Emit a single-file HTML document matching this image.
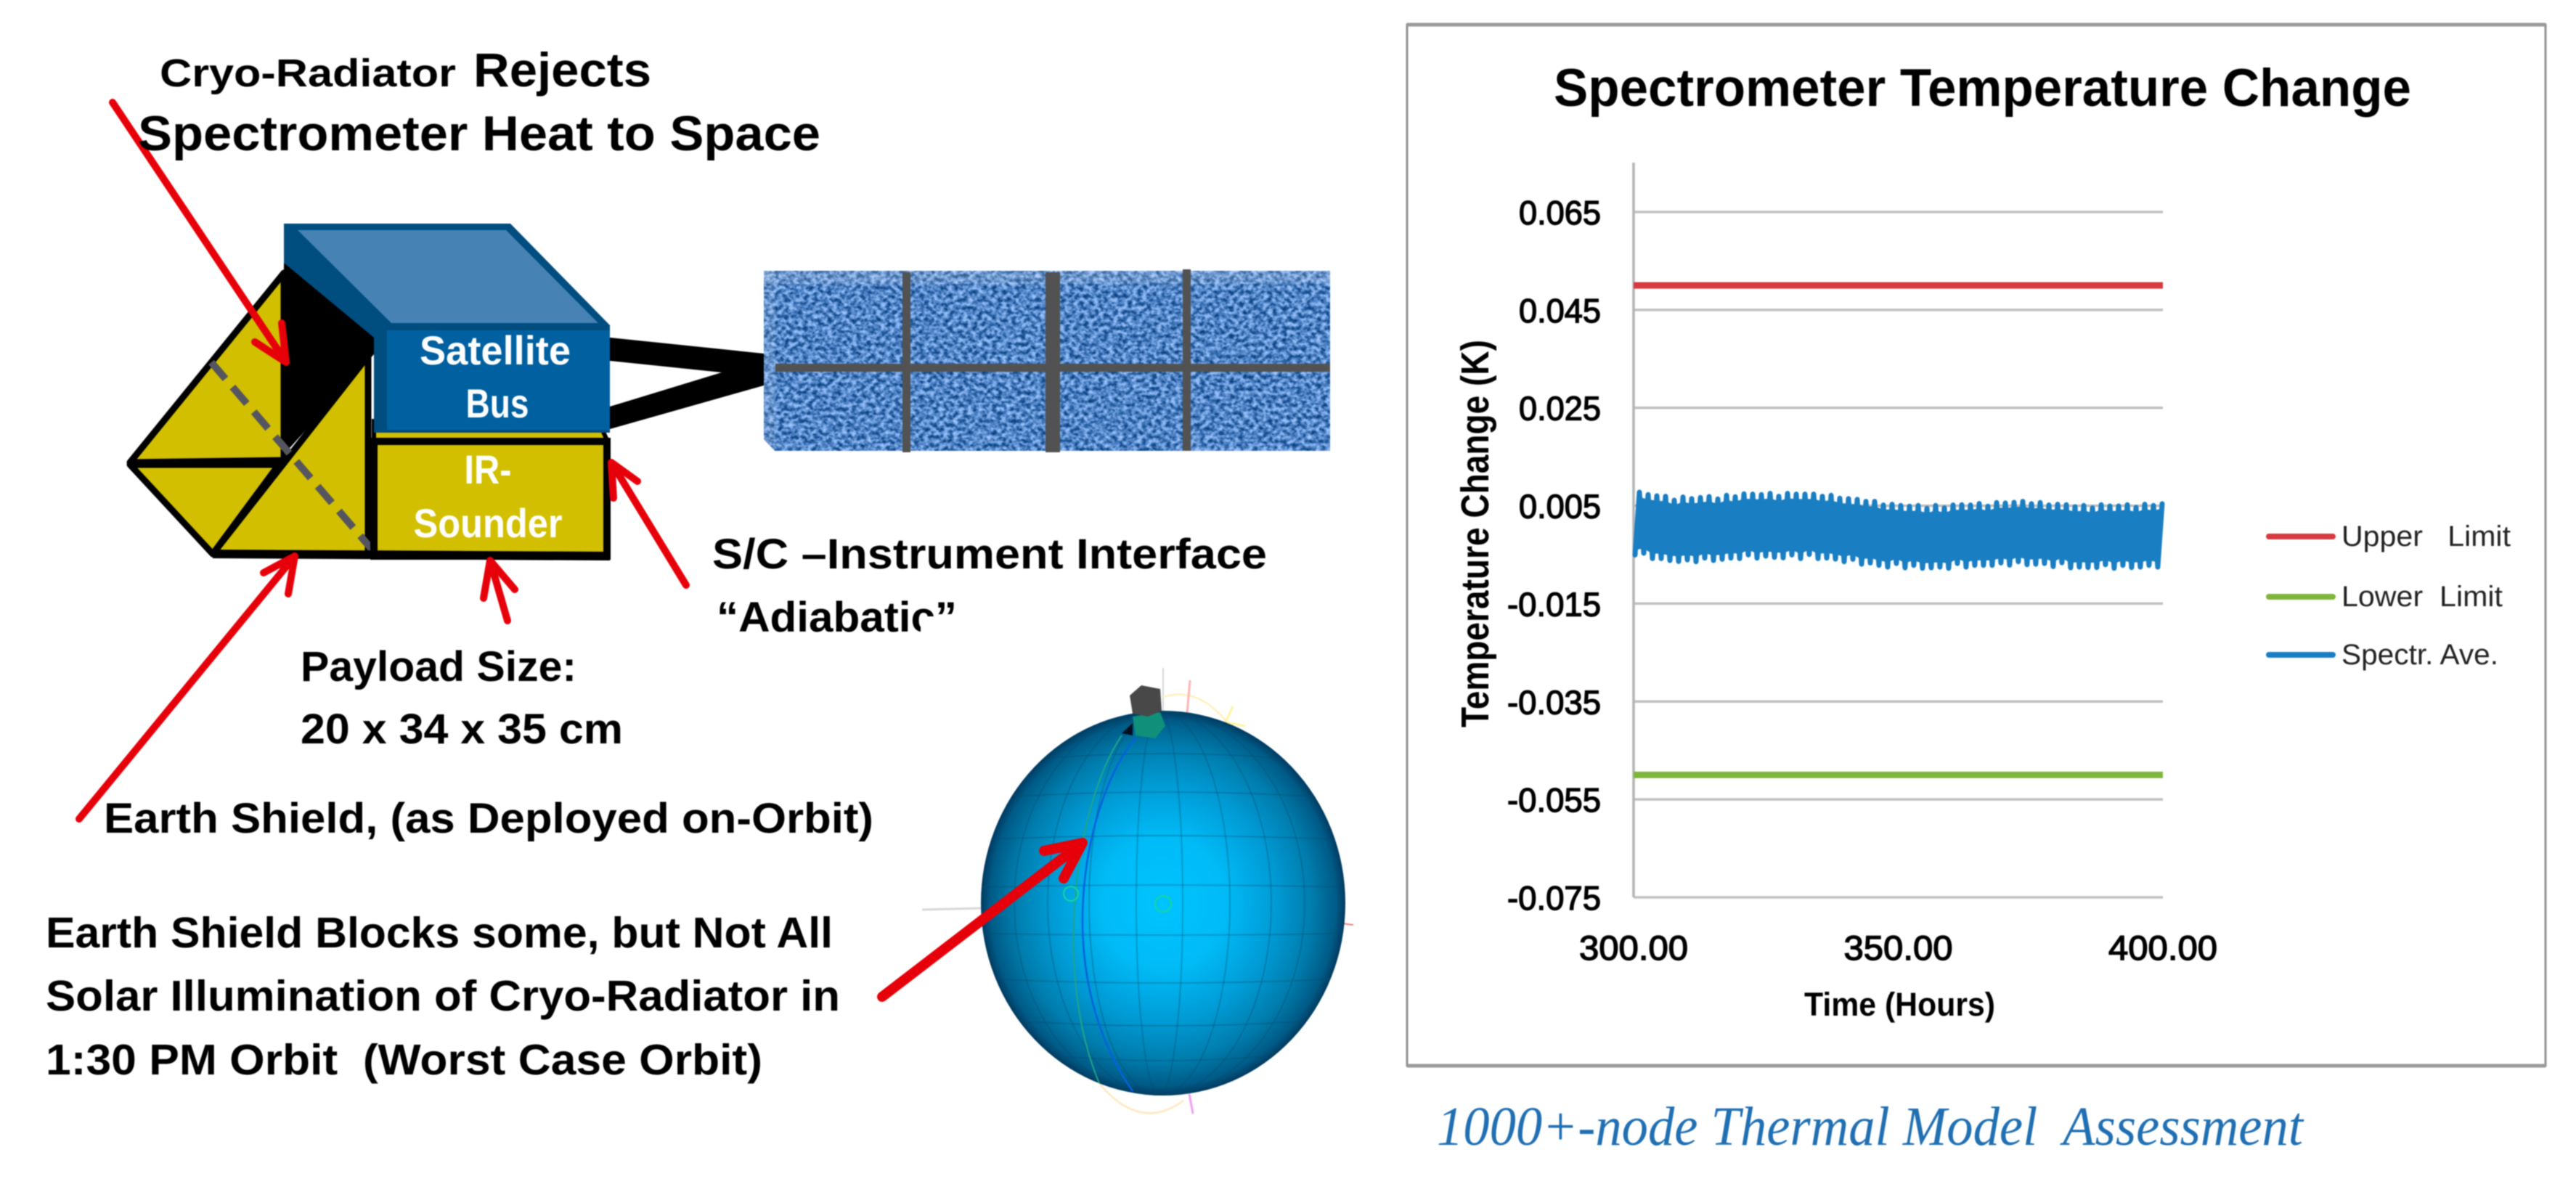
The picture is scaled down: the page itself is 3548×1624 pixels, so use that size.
<!DOCTYPE html>
<html lang="en">
<head>
<meta charset="utf-8">
<title>Spectrometer Temperature Change</title>
<style>
html,body{margin:0;padding:0;background:#fff;width:3548px;height:1624px;overflow:hidden}
svg{display:block;filter:blur(0.9px)}
text{font-family:"Liberation Sans",sans-serif;white-space:pre}
</style>
</head>
<body>
<svg id="root" xmlns="http://www.w3.org/2000/svg" width="3548" height="1624" viewBox="0 0 3548 1624">
<defs>
<filter id="weave" x="0" y="0" width="100%" height="100%" color-interpolation-filters="sRGB">
<feTurbulence type="fractalNoise" baseFrequency="0.15 0.18" numOctaves="2" seed="7"/>
<feColorMatrix type="matrix" values="1 0 0 0 0 1 0 0 0 0 1 0 0 0 0 0 0 0 0 1"/>
<feComponentTransfer>
<feFuncR type="table" tableValues="0.04 0.05 0.07 0.16 0.32 0.48 0.58 0.66 0.72"/>
<feFuncG type="table" tableValues="0.2 0.22 0.28 0.38 0.52 0.66 0.74 0.8 0.84"/>
<feFuncB type="table" tableValues="0.45 0.46 0.52 0.64 0.78 0.9 0.96 0.98 1"/>
</feComponentTransfer>
</filter>
<radialGradient id="globeShade" cx="0.5" cy="0.5" r="0.5">
<stop offset="0" stop-color="#00c4ff"/>
<stop offset="0.35" stop-color="#00baf6"/>
<stop offset="0.62" stop-color="#009ad4"/>
<stop offset="0.82" stop-color="#007cac"/>
<stop offset="0.95" stop-color="#005a86"/>
<stop offset="1" stop-color="#003a60"/>
</radialGradient>
<clipPath id="globeClip"><ellipse cx="1602" cy="1244" rx="251" ry="265"/></clipPath>
<clipPath id="panelClip"><polygon points="1052,373 1832,373 1832,621 1067,621 1052,605"/></clipPath>
</defs>

<!-- Spacecraft diagram -->
<g>
<g stroke="#000" stroke-width="9" stroke-linejoin="round" fill="#d2bf00">
<polygon points="179,637 391,376 391,634"/>
<polygon points="179,640 384,640 293,763"/>
<polygon points="507,490 507,763 293,763"/>
</g>
<polygon fill="#000" points="391,362 515,459 515,488 391,626"/>
<line x1="291" y1="499" x2="515" y2="760" stroke="#55555f" stroke-width="10" stroke-dasharray="30 15"/>
<polygon fill="#d2bf00" stroke="#000" stroke-width="6" points="515,580 824,580 836,606 515,606"/>
<rect x="515" y="608" width="321" height="158" fill="#d2bf00" stroke="#000" stroke-width="10"/>
<line x1="293" y1="763" x2="840" y2="766" stroke="#000" stroke-width="12"/>
<polygon fill="#000" points="840,465 1052,487 1052,531 840,591 840,560 994,513 840,497"/>
<polygon fill="#004d80" points="391,308 703,308 840,448 840,596 515,596 515,465 391,362"/>
<polygon fill="#4682b4" points="410,317 697,317 824,445 539,445"/>
<rect x="533" y="455" width="307" height="137" fill="#0060a0"/>
<text x="682" y="502" text-anchor="middle" font-size="56" font-weight="700" fill="#fff" textLength="208" lengthAdjust="spacingAndGlyphs">Satellite</text>
<text x="685" y="575" text-anchor="middle" font-size="56" font-weight="700" fill="#fff" textLength="87" lengthAdjust="spacingAndGlyphs">Bus</text>
<text x="672" y="666" text-anchor="middle" font-size="56" font-weight="700" fill="#fff" textLength="65" lengthAdjust="spacingAndGlyphs">IR-</text>
<text x="672" y="740" text-anchor="middle" font-size="56" font-weight="700" fill="#fff" textLength="205" lengthAdjust="spacingAndGlyphs">Sounder</text>

<g clip-path="url(#panelClip)">
<rect x="1052" y="373" width="780" height="248" fill="#5a8ac8" filter="url(#weave)"/>
<rect x="1052" y="373" width="780" height="18" fill="#fff" opacity="0.16"/>
<rect x="1052" y="373" width="16" height="248" fill="#fff" opacity="0.12"/>
</g>
<g fill="#525252">
<rect x="1068" y="501" width="764" height="11"/>
<rect x="1243" y="375" width="11" height="248"/>
<rect x="1440" y="375" width="20" height="248"/>
<rect x="1629" y="371" width="11" height="250"/>
</g>
</g>

<!-- Red callout arrows -->
<g fill="none" stroke="#e6000a" stroke-linecap="round" stroke-linejoin="round">
<g stroke-width="10"><path d="M155,141 L394,499 M351,471 L394,499 L388,445"/></g>
<g stroke-width="10"><path d="M945,806 L842,637 M878,663 L842,637 L845,686"/></g>
<g stroke-width="10"><path d="M699,855 L675,772 M709,812 L675,772 L666,824"/></g>
<g stroke-width="10"><path d="M109,1128 L406,766 M363,789 L406,766 L397,818"/></g>
</g>

<!-- Labels -->
<g fill="#000" font-weight="700">
<text x="220" y="119" font-size="54" textLength="408" lengthAdjust="spacingAndGlyphs">Cryo-Radiator</text>
<text x="652" y="119" font-size="66" textLength="245" lengthAdjust="spacingAndGlyphs">Rejects</text>
<text x="190" y="207" font-size="68" textLength="940" lengthAdjust="spacingAndGlyphs">Spectrometer Heat to Space</text>
<text x="981" y="783" font-size="58" textLength="764" lengthAdjust="spacingAndGlyphs">S/C –Instrument Interface</text>
<text x="987" y="870" font-size="58" textLength="331" lengthAdjust="spacingAndGlyphs">“Adiabatic”</text>
<rect x="1268" y="853" width="70" height="34" fill="#fff"/>
<text x="414" y="938" font-size="58" textLength="380" lengthAdjust="spacingAndGlyphs">Payload Size:</text>
<text x="414" y="1024" font-size="58" textLength="444" lengthAdjust="spacingAndGlyphs">20 x 34 x 35 cm</text>
<text x="143" y="1147" font-size="58" textLength="1060" lengthAdjust="spacingAndGlyphs">Earth Shield, (as Deployed on-Orbit)</text>
<text x="63" y="1305" font-size="59" textLength="1084" lengthAdjust="spacingAndGlyphs">Earth Shield Blocks some, but Not All</text>
<text x="63" y="1392" font-size="59" textLength="1094" lengthAdjust="spacingAndGlyphs">Solar Illumination of Cryo-Radiator in</text>
<text x="63" y="1480" font-size="59" textLength="987" lengthAdjust="spacingAndGlyphs">1:30 PM Orbit  (Worst Case Orbit)</text>
</g>

<!-- Globe -->
<g>
<g fill="none">
<line x1="1602" y1="920" x2="1602" y2="982" stroke="#d8d8d8" stroke-width="2"/>
<line x1="1270" y1="1253" x2="1352" y2="1251" stroke="#d8d8d8" stroke-width="3"/>
<path d="M1602,960 Q1650,945 1690,995" stroke="#fff0c0" stroke-width="2.5"/>
<line x1="1639" y1="937" x2="1635" y2="982" stroke="#ffb4b4" stroke-width="3"/>
<path d="M1698,973 L1688,995 L1715,1000" stroke="#fff5a0" stroke-width="3"/>
<path d="M1514,1492 Q1570,1560 1630,1516" stroke="#ffe8c0" stroke-width="2.5"/>
<line x1="1638" y1="1507" x2="1643" y2="1534" stroke="#f0a0f0" stroke-width="3"/>
<line x1="1824" y1="1269" x2="1864" y2="1274" stroke="#f08080" stroke-width="2"/>
</g>
<ellipse cx="1602" cy="1244" rx="251" ry="265" fill="url(#globeShade)"/>
<g clip-path="url(#globeClip)" fill="none" stroke="#004a6e" stroke-opacity="0.32" stroke-width="2">
<ellipse cx="1597" cy="1244" rx="32" ry="265"/>
<ellipse cx="1597" cy="1244" rx="97" ry="265"/>
<ellipse cx="1597" cy="1244" rx="154" ry="265"/>
<ellipse cx="1597" cy="1244" rx="200" ry="265"/>
<path d="M1444,1044 Q1602,1032 1760,1044"/>
<path d="M1397,1097 Q1602,1085 1807,1097"/>
<path d="M1367,1156 Q1602,1146 1837,1156"/>
<path d="M1352,1222 Q1602,1216 1852,1222"/>
<path d="M1354,1286 Q1602,1290 1850,1286"/>
<path d="M1374,1349 Q1602,1359 1830,1349"/>
<path d="M1409,1407 Q1602,1419 1795,1407"/>
<path d="M1458,1455 Q1602,1467 1746,1455"/>
</g>
<path d="M1545,1013 C1480,1110 1450,1340 1514,1492" fill="none" stroke="#20a488" stroke-width="2"/>
<path d="M1564,1017 C1500,1090 1440,1330 1560,1503" fill="none" stroke="#0462dc" stroke-width="2.5"/>
<circle cx="1475" cy="1231" r="10" fill="none" stroke="#14d89a" stroke-width="2"/>
<circle cx="1602" cy="1245" r="11" fill="none" stroke="#14d89a" stroke-width="2"/>
<polygon fill="#001020" points="1545,1010 1560,996 1560,1013"/>
<polygon fill="#10907a" points="1560,987 1598,981 1605,1000 1591,1017 1564,1013"/>
<polygon fill="#484848" points="1556,958 1572,944 1598,949 1600,979 1581,987 1560,983"/>
<path d="M1215,1373 L1491,1161 M1438,1172 L1491,1161 L1465,1210" fill="none" stroke="#e6000a" stroke-width="14" stroke-linecap="round" stroke-linejoin="round"/>
</g>

<!-- Chart frame -->
<rect x="1938" y="34" width="1568" height="1434" fill="#fff" stroke="#909090" stroke-width="3"/>
<line x1="1938" y1="34" x2="3506" y2="34" stroke="#9a9a9a" stroke-width="5"/>
<line x1="1938" y1="1468" x2="3506" y2="1468" stroke="#9a9a9a" stroke-width="5"/>
<text x="2140" y="146" font-size="73" font-weight="700" fill="#000" textLength="1181" lengthAdjust="spacingAndGlyphs">Spectrometer Temperature Change</text>
<g id="chart"></g>
<text transform="translate(2050,1002) rotate(-90)" font-size="54" font-weight="700" fill="#000" textLength="534" lengthAdjust="spacingAndGlyphs">Temperature Change (K)</text>
<text x="2485" y="1399" font-size="45" font-weight="700" fill="#000" textLength="263" lengthAdjust="spacingAndGlyphs">Time (Hours)</text>
<text x="1979" y="1577" font-size="76" font-style="italic" style="font-family:'Liberation Serif',serif" fill="#1f6fb2" textLength="1193" lengthAdjust="spacingAndGlyphs">1000+-node Thermal Model  Assessment</text>
</svg>

<script>
// ---- Chart data ----
const yTickLabels = ["0.065","0.045","0.025","0.005","-0.015","-0.035","-0.055","-0.075"];
const xTickLabels = ["300.00","350.00","400.00"];
const upperLimitHours = [300, 400];
const upperLimitValues = [0.05, 0.05];
const lowerLimitHours = [300, 400];
const lowerLimitValues = [-0.05, -0.05];
const firstTroughHour = 300.27;
const firstPeakHour = 301.10;
const orbitPeriodHours = 1.646;
const spectrPeaks = [
0.00776,0.00727,0.00702,0.00692,0.00613,0.00677,0.00643,0.00667,0.00687,0.00638,
0.00712,0.00682,0.00742,0.00737,0.00727,0.00751,0.00692,0.00751,0.00737,0.00737,
0.00737,0.00692,0.00712,0.00653,0.00643,0.00628,0.00588,0.00588,0.00514,0.00529,
0.00504,0.00489,0.00504,0.00445,0.00504,0.00455,0.00514,0.00519,0.00514,0.00544,
0.00489,0.00563,0.00554,0.00568,0.00588,0.00539,0.00563,0.00514,0.00529,0.00519,
0.00479,0.00504,0.00455,0.00519,0.00494,0.00494,0.00519,0.00464,0.00529,0.00504,0.00539];
const spectrTroughs = [
-0.00506,-0.00471,-0.00580,-0.00580,-0.00619,-0.00639,-0.00605,-0.00644,-0.00570,-0.00619,
-0.00595,-0.00570,-0.00580,-0.00506,-0.00570,-0.00530,-0.00555,-0.00565,-0.00506,-0.00580,
-0.00496,-0.00580,-0.00570,-0.00590,-0.00644,-0.00595,-0.00694,-0.00669,-0.00718,-0.00753,
-0.00679,-0.00768,-0.00718,-0.00778,-0.00768,-0.00753,-0.00778,-0.00679,-0.00753,-0.00718,
-0.00718,-0.00718,-0.00669,-0.00713,-0.00644,-0.00704,-0.00694,-0.00679,-0.00743,-0.00664,
-0.00768,-0.00753,-0.00763,-0.00763,-0.00704,-0.00778,-0.00718,-0.00763,-0.00753,-0.00718,-0.00753];
const legendLabels = ["Upper   Limit","Lower  Limit","Spectr. Ave."];
const legendNames = ["upper-limit","lower-limit","spectr-ave"];
const legendColors = ["#d63a40","#7fb53d","#1a7ec2"];
const legendTextWidths = [233,222,216];

// ---- Axis functions ----
const NS = "http://www.w3.org/2000/svg";
const chart = document.getElementById("chart");
const plotLeft = 2250, plotRight = 2979, plotTop = 292, plotBottom = 1236;
const hourMin = 300, hourMax = 400, valueMax = 0.065, valueMin = -0.075;
function xScale(h){ return plotLeft + (h - hourMin) / (hourMax - hourMin) * (plotRight - plotLeft); }
function yScale(v){ return plotTop + (valueMax - v) / (valueMax - valueMin) * (plotBottom - plotTop); }
function make(tag, attrs, parent){
  const el = document.createElementNS(NS, tag);
  for (const k in attrs) el.setAttribute(k, attrs[k]);
  (parent || chart).appendChild(el);
  return el;
}

// gridlines and y tick labels
yTickLabels.forEach(function(label){
  const v = parseFloat(label);
  const y = yScale(v);
  const grid = make("line", {x1: plotLeft, x2: plotRight, y1: y, y2: y, stroke: "#c0c0c0", "stroke-width": 3.5});
  
  
  const t = make("text", {x: 2205, y: y + 17, "text-anchor": "end", "font-size": 46, fill: "#000", stroke: "#000", "stroke-width": 1.4,
    textLength: label.length > 5 ? 129 : 113, lengthAdjust: "spacingAndGlyphs"});
  t.textContent = label;
  
  
});

// y axis
const yAxis = make("line", {x1: plotLeft, x2: plotLeft, y1: 224, y2: plotBottom, stroke: "#b4b4b4", "stroke-width": 3.5});



// x tick labels
xTickLabels.forEach(function(label){
  const t = make("text", {x: xScale(parseFloat(label)), y: 1322, "text-anchor": "middle", "font-size": 47, fill: "#000", stroke: "#000", "stroke-width": 1.4,
    textLength: 150, lengthAdjust: "spacingAndGlyphs"});
  t.textContent = label;
  
  
});

// limit lines
function seriesPath(hours, values){
  return hours.map(function(h, i){ return (i ? "L" : "M") + xScale(h).toFixed(1) + "," + yScale(values[i]).toFixed(1); }).join(" ");
}
const upperLine = make("path", {d: seriesPath(upperLimitHours, upperLimitValues), fill: "none", stroke: legendColors[0], "stroke-width": 9});


const lowerLine = make("path", {d: seriesPath(lowerLimitHours, lowerLimitValues), fill: "none", stroke: legendColors[1], "stroke-width": 9});



// spectrometer average: alternating trough / peak samples per orbit
const spectrHours = [];
const spectrValues = [];
spectrPeaks.forEach(function(p, i){
  spectrHours.push(firstTroughHour + i * orbitPeriodHours);
  spectrValues.push(spectrTroughs[i]);
  spectrHours.push(firstPeakHour + i * orbitPeriodHours);
  spectrValues.push(p);
});

// solid core of the oscillation (dense sampling merges into a band, leaving only edge notches)
const notchDepth = 0.0013;
const coreTopHours = spectrPeaks.map(function(p, i){ return firstPeakHour + i * orbitPeriodHours; });
const coreBottomHours = spectrTroughs.map(function(p, i){ return firstTroughHour + i * orbitPeriodHours; }).reverse();
const coreTop = spectrPeaks.map(function(p){ return p - notchDepth; });
const coreBottom = spectrTroughs.map(function(p){ return p + notchDepth; }).reverse();
const core = make("path", {d: seriesPath(coreTopHours.concat(coreBottomHours), coreTop.concat(coreBottom)) + " Z", fill: legendColors[2], stroke: legendColors[2], "stroke-width": 4});



const spectrLine = make("path", {d: seriesPath(spectrHours, spectrValues), fill: "none", stroke: legendColors[2],
  "stroke-width": 7, "stroke-linejoin": "round", "stroke-linecap": "round"});



// legend
const legendRowY = [739, 822, 902];
legendLabels.forEach(function(label, i){
  const sw = make("line", {x1: 3125, x2: 3213, y1: legendRowY[i], y2: legendRowY[i], stroke: legendColors[i], "stroke-width": 8, "stroke-linecap": "round"});
  
  
  const t = make("text", {x: 3225, y: legendRowY[i] + 13, "font-size": 40, fill: "#222", textLength: legendTextWidths[i], lengthAdjust: "spacingAndGlyphs"});
  t.textContent = label;
  
  
});
</script>
</body>
</html>
